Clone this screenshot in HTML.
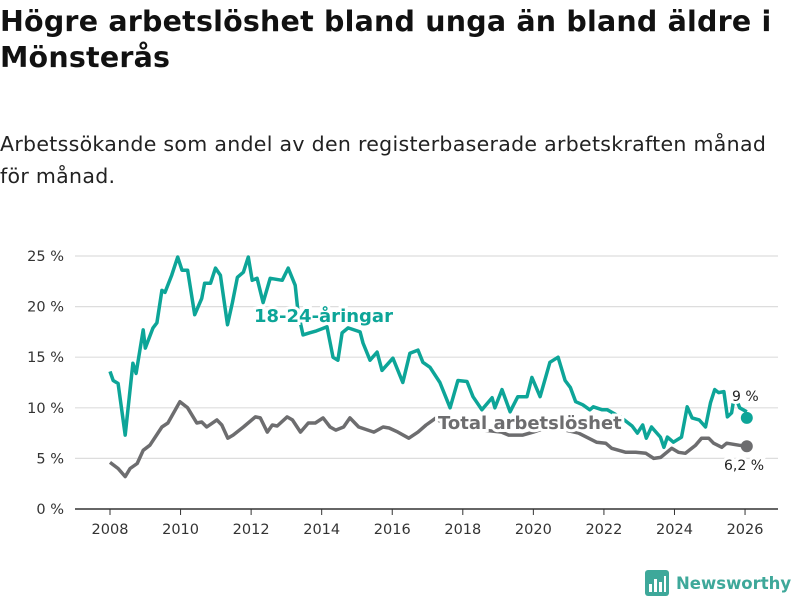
<!DOCTYPE html>
<html><head><meta charset="utf-8"><style>
body{margin:0;background:#fff;width:800px;height:600px;overflow:hidden;font-family:"DejaVu Sans",sans-serif}
h1{position:absolute;left:0;top:4px;margin:0;font-size:28.5px;line-height:36px;font-weight:bold;color:#111;white-space:nowrap;letter-spacing:0.2px}
.sub{position:absolute;left:0;top:128px;font-size:20.5px;line-height:32px;color:#222;white-space:nowrap;letter-spacing:0.3px}
</style></head><body>
<h1>Högre arbetslöshet bland unga än bland äldre i<br>Mönsterås</h1>
<div class="sub">Arbetssökande som andel av den registerbaserade arbetskraften månad<br>för månad.</div>
<svg id="c" width="800" height="600" style="position:absolute;left:0;top:0"></svg>
<script>
const yTicks=[0,5,10,15,20,25];
const xTicks=[2008,2010,2012,2014,2016,2018,2020,2022,2024,2026];
const youthT=[2008,2008.09,2008.23,2008.43,2008.65,2008.74,2008.94,2009.0,2009.22,2009.33,2009.47,2009.56,2009.75,2009.92,2010.04,2010.2,2010.4,2010.6,2010.68,2010.85,2010.99,2011.13,2011.33,2011.47,2011.61,2011.78,2011.92,2012.03,2012.17,2012.34,2012.54,2012.88,2013.05,2013.25,2013.33,2013.47,2013.65,2013.85,2014.0,2014.15,2014.32,2014.46,2014.58,2014.75,2015.09,2015.17,2015.37,2015.57,2015.71,2016.02,2016.3,2016.5,2016.73,2016.87,2017.07,2017.35,2017.64,2017.86,2018.12,2018.29,2018.54,2018.83,2018.91,2019.11,2019.34,2019.56,2019.82,2019.96,2020.19,2020.47,2020.7,2020.9,2021.05,2021.2,2021.4,2021.6,2021.7,2021.95,2022.1,2022.5,2022.8,2022.95,2023.1,2023.2,2023.35,2023.6,2023.7,2023.8,2023.97,2024.2,2024.36,2024.5,2024.7,2024.88,2025.02,2025.14,2025.25,2025.4,2025.5,2025.62,2025.7,2025.85,2026.05];
const youthV=[13.6,12.7,12.4,7.3,14.4,13.4,17.7,15.9,17.9,18.4,21.6,21.4,23.1,24.9,23.6,23.6,19.2,20.8,22.3,22.3,23.8,23.1,18.2,20.4,22.9,23.4,24.9,22.6,22.8,20.4,22.8,22.6,23.8,22.1,19.5,17.2,17.4,17.6,17.8,18.0,15.0,14.7,17.4,17.9,17.5,16.4,14.7,15.5,13.7,14.9,12.5,15.4,15.7,14.5,14.0,12.5,10.0,12.7,12.6,11.1,9.8,11.0,10.0,11.8,9.6,11.1,11.1,13.0,11.1,14.5,15.0,12.7,12.0,10.6,10.3,9.8,10.1,9.8,9.8,9.0,8.2,7.5,8.3,7.0,8.1,7.1,6.1,7.1,6.6,7.1,10.1,9.0,8.8,8.1,10.5,11.8,11.5,11.6,9.1,9.5,11.3,10.0,9.6,9.0];
const totalT=[2008,2008.23,2008.43,2008.57,2008.77,2008.94,2009.13,2009.47,2009.64,2009.98,2010.2,2010.46,2010.6,2010.74,2011.03,2011.17,2011.34,2011.49,2011.78,2012.12,2012.26,2012.46,2012.6,2012.74,2013.02,2013.17,2013.4,2013.62,2013.82,2014.04,2014.24,2014.4,2014.62,2014.8,2015.05,2015.48,2015.74,2015.91,2016.16,2016.47,2016.73,2016.96,2017.24,2017.38,2017.7,2018.1,2018.6,2019.1,2019.3,2019.7,2020.0,2020.5,2020.9,2021.28,2021.79,2022.05,2022.22,2022.62,2022.9,2023.19,2023.41,2023.61,2023.92,2024.11,2024.31,2024.6,2024.77,2024.97,2025.11,2025.34,2025.48,2025.82,2026.05];
const totalV=[4.6,4.0,3.2,4.0,4.5,5.8,6.3,8.1,8.5,10.6,10.0,8.5,8.6,8.1,8.8,8.3,7.0,7.3,8.1,9.1,9.0,7.6,8.3,8.2,9.1,8.8,7.6,8.5,8.5,9.0,8.1,7.8,8.1,9.0,8.1,7.6,8.1,8.0,7.6,7.0,7.6,8.3,9.0,8.6,8.3,8.0,7.8,7.6,7.3,7.3,7.6,8.2,7.8,7.5,6.6,6.5,6.0,5.6,5.6,5.5,5.0,5.1,6.0,5.6,5.5,6.3,7.0,7.0,6.5,6.1,6.5,6.3,6.2];
const NS='http://www.w3.org/2000/svg',svg=document.getElementById('c');
const X=t=>110+(t-2008)*35.28, Y=v=>509-v*10.12;
const FF='DejaVu Sans, sans-serif';
function mk(tag,attrs,parent){const e=document.createElementNS(NS,tag);for(const k in attrs)e.setAttribute(k,attrs[k]);(parent||svg).appendChild(e);return e;}
yTicks.forEach(v=>{
 const g=mk('line',{x1:75,x2:778,y1:Y(v),y2:Y(v),stroke:v===0?'#333':'#ddd','stroke-width':v===0?1.5:1.2});
 
 
 const t=mk('text',{x:64,y:Y(v)+5,'text-anchor':'end','font-size':14.5,fill:'#333','font-family':FF});
 t.textContent=v+' %';
 
 
});
xTicks.forEach(v=>{
 const l=mk('line',{x1:X(v),x2:X(v),y1:509,y2:515,stroke:'#333'});
 
 
 const t=mk('text',{x:X(v),y:534,'text-anchor':'middle','font-size':14.5,fill:'#333','font-family':FF});
 t.textContent=v;
 
 
});
function line(T,V,col,name){
 const p=mk('path',{d:T.map((t,i)=>(i?'L':'M')+X(t).toFixed(1)+' '+Y(V[i]).toFixed(1)).join(''),fill:'none',stroke:col,'stroke-width':3.5,'stroke-linejoin':'round'});
 
 
 const c=mk('circle',{cx:X(T[T.length-1]),cy:Y(V[V.length-1]),r:6,fill:col});
 
 
}
line(totalT,totalV,'#6d6d6f','total-line');
line(youthT,youthV,'#0da598','youth-line');
function lab(txt,x,y,col,size,bold,name,halo){
 const t=mk('text',{x:x,y:y,fill:col,'font-size':size,'font-weight':bold?'bold':'normal','font-family':FF});
 if(halo){t.setAttribute('stroke','#fff');t.setAttribute('stroke-width',6);t.setAttribute('paint-order','stroke');}
 t.textContent=txt;
 
 
}
lab('18-24-åringar',254,322,'#0da598',18,true,'youth-label',true);
lab('Total arbetslöshet',438,429,'#6d6d6f',18,true,'total-label',true);
lab('9 %',732,401,'#222',14,false,'youth-end-value',true);
lab('6,2 %',724,470,'#222',14,false,'total-end-value',true);
</script>
<div style="position:absolute;left:645px;top:570px;height:26px;display:flex;align-items:center">
<svg width="24" height="26"><rect x="0" y="0" width="24" height="26" rx="3" fill="#3ea89a"/><rect x="4" y="14" width="3" height="8" fill="#fff"/><rect x="9" y="9" width="3" height="13" fill="#fff"/><rect x="14" y="12" width="3" height="10" fill="#fff"/><rect x="19" y="6" width="2" height="16" fill="#fff"/></svg>
<span style="margin-left:7px;font-size:16.5px;font-weight:bold;color:#3ea89a">Newsworthy</span></div>
</body></html>
